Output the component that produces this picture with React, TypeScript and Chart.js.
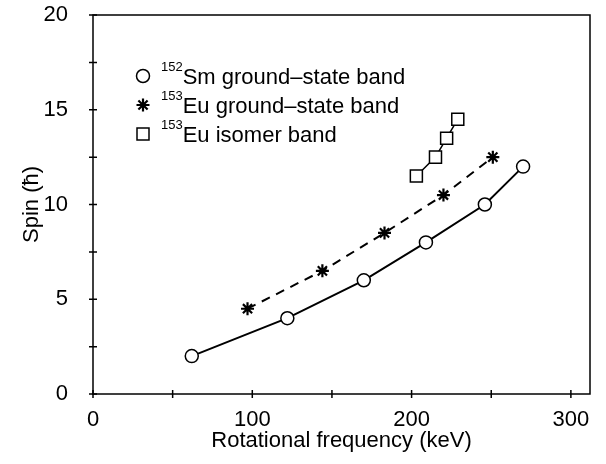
import { useEffect, useRef } from "react";
import { Chart, registerables } from "chart.js";

Chart.register(...registerables);

const FONT = "'Liberation Sans', Arial, Helvetica, sans-serif";

// Data
const smFreq = [62, 122, 170, 209, 246, 270];
const smSpin = [2, 4, 6, 8, 10, 12];
const euFreq = [97, 144, 183, 220, 251];
const euSpin = [4.5, 6.5, 8.5, 10.5, 12.5];
const isoFreq = [203, 215, 222, 229];
const isoSpin = [11.5, 12.5, 13.5, 14.5];

// Ticks
const xMajorTicks = [0, 100, 200, 300];
const xMinorTicks = [50, 150, 250];
const yMajorTicks = [0, 5, 10, 15, 20];
const yMinorTicks = [2.5, 7.5, 12.5, 17.5];

// Legend
const legendMarkers = ["circle", "star", "rect"];
const legendMass = ["152", "153", "153"];
const legendText = ["Sm ground\u2013state band", "Eu ground\u2013state band", "Eu isomer band"];

function drawMarker(ctx: CanvasRenderingContext2D, kind: string, x: number, y: number) {
  ctx.save();
  ctx.strokeStyle = "#000";
  ctx.fillStyle = "#fff";
  if (kind === "circle") {
    ctx.lineWidth = 1.5;
    ctx.beginPath();
    ctx.arc(x, y, 6.5, 0, Math.PI * 2);
    ctx.fill();
    ctx.stroke();
  } else if (kind === "rect") {
    ctx.lineWidth = 1.5;
    ctx.beginPath();
    ctx.rect(x - 6, y - 6, 12, 12);
    ctx.fill();
    ctx.stroke();
  } else {
    ctx.lineWidth = 2.2;
    const r = 6.5;
    const d = r * Math.SQRT1_2;
    ctx.beginPath();
    ctx.moveTo(x - r, y); ctx.lineTo(x + r, y);
    ctx.moveTo(x, y - r); ctx.lineTo(x, y + r);
    ctx.moveTo(x - d, y - d); ctx.lineTo(x + d, y + d);
    ctx.moveTo(x - d, y + d); ctx.lineTo(x + d, y - d);
    ctx.stroke();
  }
  ctx.restore();
}

const framePlugin = {
  id: "frameTicksLegend",
  afterDraw(chart: any) {
    const { ctx, chartArea: a, scales } = chart;
    const xs = scales.x;
    const ys = scales.y;
    ctx.save();
    ctx.strokeStyle = "#000";
    ctx.lineWidth = 1.5;
    ctx.strokeRect(a.left, a.top, a.right - a.left, a.bottom - a.top);
    const t = 4;
    ctx.beginPath();
    [...xMajorTicks, ...xMinorTicks].forEach((v) => {
      const px = xs.getPixelForValue(v);
      ctx.moveTo(px, a.bottom - t);
      ctx.lineTo(px, a.bottom + t);
    });
    [...yMajorTicks, ...yMinorTicks].forEach((v) => {
      const py = ys.getPixelForValue(v);
      ctx.moveTo(a.left - t, py);
      ctx.lineTo(a.left + t, py);
    });
    ctx.stroke();

    // Legend
    const mx = a.left + 50;
    const y0 = a.top + 61;
    const dy = 29;
    legendMarkers.forEach((m, i) => {
      const y = y0 + i * dy;
      drawMarker(ctx, m, mx, y);
      ctx.fillStyle = "#000";
      ctx.textAlign = "left";
      ctx.textBaseline = "alphabetic";
      ctx.font = `13px ${FONT}`;
      ctx.fillText(legendMass[i], mx + 18, y - 5.5);
      const w = ctx.measureText(legendMass[i]).width;
      ctx.font = `22px ${FONT}`;
      ctx.fillText(legendText[i], mx + 18 + w, y + 7.8);
    });
    ctx.restore();
  },
};

export default function App() {
  const ref = useRef<HTMLCanvasElement | null>(null);

  useEffect(() => {
    if (!ref.current) return;
    const tickFont = { family: FONT, size: 22 };
    const chart = new Chart(ref.current, {
      type: "scatter",
      data: {
        datasets: [
          {
            label: "152Sm ground-state band",
            data: smFreq.map((x, i) => ({ x, y: smSpin[i] })),
            showLine: true,
            borderColor: "#000",
            borderWidth: 2,
            pointStyle: "circle",
            pointRadius: 6.5,
            pointBorderWidth: 1.5,
            pointBorderColor: "#000",
            pointBackgroundColor: "#fff",
          },
          {
            label: "153Eu ground-state band",
            data: euFreq.map((x, i) => ({ x, y: euSpin[i] })),
            showLine: true,
            borderColor: "#000",
            borderWidth: 2,
            borderDash: [9, 7],
            pointStyle: "star",
            pointRadius: 6.5,
            pointBorderWidth: 2.2,
            pointBorderColor: "#000",
            pointBackgroundColor: "#000",
          },
          {
            label: "153Eu isomer band",
            data: isoFreq.map((x, i) => ({ x, y: isoSpin[i] })),
            showLine: true,
            borderColor: "#000",
            borderWidth: 1.5,
            pointStyle: "rect",
            pointRadius: 8.5,
            pointBorderWidth: 1.5,
            pointBorderColor: "#000",
            pointBackgroundColor: "#fff",
          },
        ],
      },
      options: {
        responsive: false,
        animation: false,
        layout: { padding: { left: 0, right: 16, top: 15, bottom: 0 } },
        plugins: {
          legend: { display: false },
          tooltip: { enabled: false },
        },
        scales: {
          x: {
            type: "linear",
            min: 0,
            max: 312,
            afterBuildTicks: (s: any) => {
              s.ticks = xMajorTicks.map((v) => ({ value: v }));
            },
            afterFit: (s: any) => {
              s.height = 70;
              s.paddingLeft = 0;
              s.paddingRight = 0;
            },
            grid: { display: false },
            border: { display: false },
            ticks: { color: "#000", font: tickFont, padding: 5, maxRotation: 0 },
            title: {
              display: true,
              text: "Rotational frequency (keV)",
              color: "#000",
              font: tickFont,
              padding: { top: 0, bottom: 10 },
            },
          },
          y: {
            type: "linear",
            min: 0,
            max: 20,
            afterBuildTicks: (s: any) => {
              s.ticks = yMajorTicks.map((v) => ({ value: v }));
            },
            afterFit: (s: any) => {
              s.width = 93;
              s.paddingTop = 0;
              s.paddingBottom = 0;
            },
            grid: { display: false },
            border: { display: false },
            ticks: { color: "#000", font: tickFont, padding: 17 },
            title: {
              display: true,
              text: "Spin (\u0127)",
              color: "#000",
              font: tickFont,
              padding: { top: 19, bottom: 0 },
            },
          },
        },
      },
      plugins: [framePlugin],
    } as any);
    return () => chart.destroy();
  }, []);

  return (
    <div style={{ position: "fixed", left: 0, top: 0, width: 606, height: 464, background: "#fff" }}>
      <canvas ref={ref} width={606} height={464} style={{ width: 606, height: 464, display: "block" }} />
    </div>
  );
}
